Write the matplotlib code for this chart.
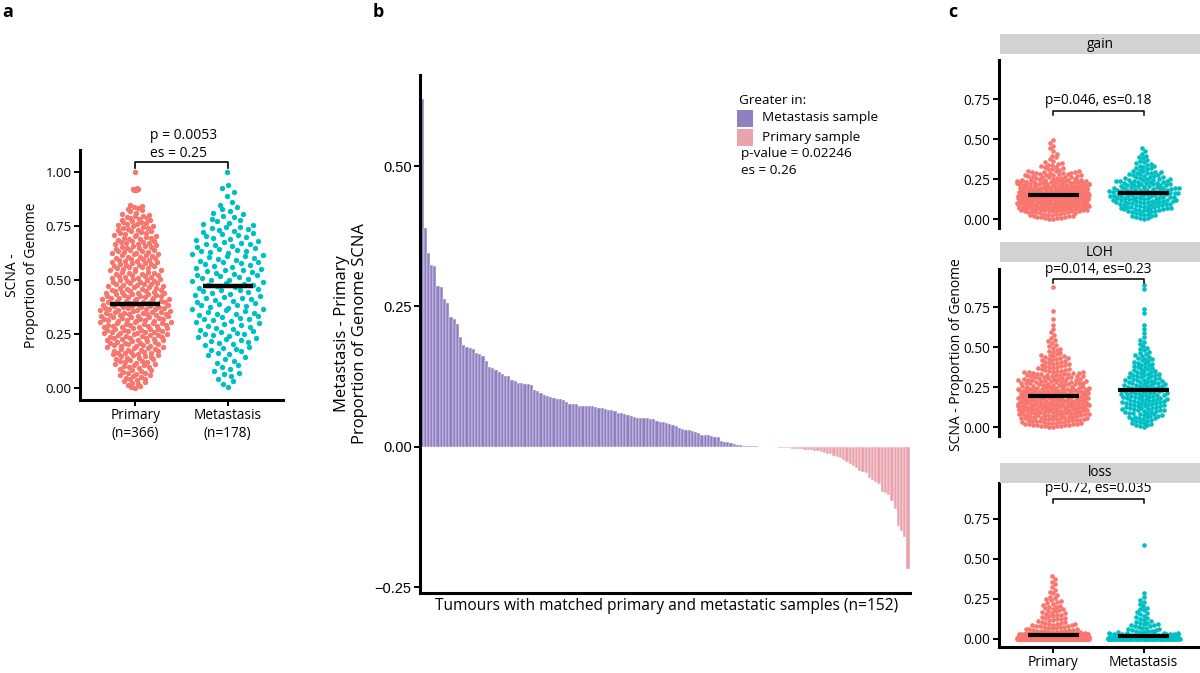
import numpy as np
import matplotlib
matplotlib.use('Agg')
import matplotlib.pyplot as plt
from matplotlib.patches import Rectangle

plt.rcParams['font.family'] = ['Open Sans', 'DejaVu Sans']

# ------------------------------------------------------------------ data
groups = ['Primary', 'Metastasis']
group_labels_a = ['Primary\n(n=366)', 'Metastasis\n(n=178)']

# panel a: binned read-off of the swarms (bin edges / counts) + single points
a_pri_edges = [0.00, 0.05, 0.10, 0.15, 0.20, 0.25, 0.30, 0.35, 0.40, 0.45,
               0.50, 0.55, 0.60, 0.65, 0.70, 0.75, 0.80, 0.85]
a_pri_counts = [12, 15, 18, 23, 26, 29, 31, 31, 28, 23, 21, 21, 20, 19, 17, 16, 10]
a_pri_single = [0.915, 0.918, 0.920, 0.922, 0.925, 1.00]
a_met_edges = [0.00, 0.05, 0.10, 0.15, 0.20, 0.25, 0.30, 0.35, 0.40, 0.45,
               0.50, 0.55, 0.60, 0.65, 0.70, 0.75, 0.80, 0.85, 0.90, 0.95]
a_met_counts = [4, 6, 5, 9, 11, 11, 13, 13, 12, 13, 13, 12, 13, 12, 11, 8, 6, 2, 3]
a_met_single = [1.00]
a_medians = [0.39, 0.47]

# panel b: sorted differences (metastasis - primary), n = 152
b_diff = [0.620, 0.390, 0.346, 0.324, 0.322, 0.287, 0.285, 0.263, 0.256, 0.231,
          0.227, 0.218, 0.196, 0.181, 0.178, 0.176, 0.174, 0.168, 0.165, 0.161,
          0.153, 0.143, 0.140, 0.137, 0.133, 0.130, 0.127, 0.126, 0.120, 0.117,
          0.114, 0.113, 0.112, 0.112, 0.111, 0.101, 0.099, 0.096, 0.093, 0.090,
          0.088, 0.087, 0.086, 0.085, 0.084, 0.080, 0.077, 0.076, 0.076, 0.073,
          0.072, 0.072, 0.072, 0.072, 0.071, 0.070, 0.069, 0.068, 0.066, 0.065,
          0.064, 0.061, 0.060, 0.058, 0.057, 0.055, 0.053, 0.052, 0.051, 0.051,
          0.051, 0.050, 0.049, 0.046, 0.045, 0.044, 0.042, 0.041, 0.039, 0.038,
          0.034, 0.032, 0.031, 0.030, 0.029, 0.027, 0.024, 0.022, 0.021, 0.021,
          0.020, 0.018, 0.017, 0.010, 0.009, 0.008, 0.007, 0.005, 0.004, 0.003,
          0.002, 0.002, 0.001, 0.001, 0.001, 0.0005, -0.0003, -0.0005, -0.0008, -0.001,
          -0.001, -0.0015, -0.002, -0.002, -0.0025, -0.003, -0.003, -0.004, -0.004, -0.005,
          -0.006, -0.006, -0.007, -0.008, -0.009, -0.010, -0.012, -0.013, -0.016, -0.018,
          -0.020, -0.023, -0.026, -0.030, -0.034, -0.037, -0.042, -0.045, -0.047, -0.055,
          -0.058, -0.062, -0.066, -0.081, -0.082, -0.085, -0.097, -0.111, -0.141, -0.150,
          -0.161, -0.218]

# panel c: facets, binned read-off
c_facets = ['gain', 'LOH', 'loss']
c_gain_edges = [0.00, 0.05, 0.10, 0.15, 0.20, 0.25, 0.30, 0.35, 0.40, 0.45, 0.50]
c_gain_pri = [25, 75, 85, 75, 55, 28, 12, 5, 3, 3]
c_gain_met = [14, 28, 34, 36, 28, 18, 11, 6, 3, 0]
c_loh_edges = [0.00, 0.05, 0.10, 0.15, 0.20, 0.25, 0.30, 0.35, 0.40, 0.45,
               0.50, 0.55, 0.60, 0.65, 0.70, 0.75, 0.80, 0.85, 0.90]
c_loh_pri = [32, 48, 60, 55, 55, 35, 30, 16, 14, 8, 5, 3, 2, 1, 1, 0, 0, 1]
c_loh_met = [12, 18, 22, 24, 24, 21, 17, 12, 10, 6, 4, 2, 2, 0, 2, 0, 0, 2]
c_loss_edges = [0.000, 0.005, 0.035, 0.05, 0.10, 0.15, 0.20, 0.25, 0.30, 0.35, 0.40]
c_loss_pri = [181, 100, 15, 24, 14, 12, 9, 5, 3, 3]
c_loss_met = [87, 45, 10, 15, 8, 6, 4, 2, 0, 0]
c_loss_met_single = [0.59]
c_medians = {'gain': [0.148, 0.164], 'LOH': [0.196, 0.233], 'loss': [0.027, 0.017]}
c_stats = {'gain': 'p=0.046, es=0.18', 'LOH': 'p=0.014, es=0.23', 'loss': 'p=0.72, es=0.035'}

# ------------------------------------------------------------------ helpers
W, H = 1200, 673
RED, TEAL = '#F8766D', '#00BFC4'
PURPLE, PINK = '#8F80C2', '#E9A3AD'


def expand(edges, counts, single=()):
    vals = []
    for lo, hi, k in zip(edges[:-1], edges[1:], counts):
        for j in range(k):
            vals.append(lo + (j + 0.5) / k * (hi - lo))
    vals.extend(single)
    return np.array(vals)


def vdc(n):
    out = np.zeros(n)
    for i in range(n):
        k, v, den = i + 1, 0.0, 1.0
        while k > 0:
            den *= 2
            k, r = divmod(k, 2)
            v += r / den
        out[i] = v
    return out


def quasirandom(y, width=0.4, adjust=0.5):
    y = np.asarray(y, float)
    n = len(y)
    sd = y.std(ddof=1)
    q75, q25 = np.percentile(y, [75, 25])
    bw = 0.9 * min(sd, (q75 - q25) / 1.34) * n ** -0.2 * adjust
    grid = np.linspace(y.min() - 3 * bw, y.max() + 3 * bw, 512)
    dens = lambda t: np.exp(-0.5 * ((t[:, None] - y[None, :]) / bw) ** 2).sum(1)
    d = dens(y) / dens(grid).max()
    ranks = np.argsort(np.argsort(y, kind='stable'), kind='stable')
    return (vdc(n)[ranks] - 0.5) * 2 * width * d


def beeswarm(y, ypx, xpx, d, width=0.4):
    y = np.asarray(y, float)
    yp = y * ypx
    order = np.argsort(yp, kind='stable')
    xs = np.zeros(len(y))
    PY = np.empty(0)
    PX = np.empty(0)
    for i in order:
        yi = yp[i]
        x = 0.0
        if len(PY):
            m = np.abs(PY - yi) < d
            if m.any():
                dx = np.sqrt(d * d - (PY[m] - yi) ** 2)
                lo = PX[m] - dx
                hi = PX[m] + dx
                cand = np.concatenate([[0.0], lo, hi])
                cand = cand[np.argsort(np.abs(cand), kind='stable')]
                bad = (cand[:, None] > lo[None, :] + 1e-6) & (cand[:, None] < hi[None, :] - 1e-6)
                x = cand[np.argmax(~bad.any(1))]
        xs[i] = x
        PY = np.append(PY, yi)
        PX = np.append(PX, x)
    maxw = width * xpx
    over = np.abs(xs) > maxw
    if over.any():
        # corral: spread overflowing points evenly across the allowed width
        xs[over] = (vdc(over.sum()) - 0.5) * 2 * maxw
    return xs / xpx


fig = plt.figure(figsize=(W / 100, H / 100), dpi=100)


def ax_px(l, t, r, b):
    return fig.add_axes([l / W, 1 - b / H, (r - l) / W, (b - t) / H])


def style(ax, lw=2.2, bottom=True):
    for s in ['top', 'right']:
        ax.spines[s].set_visible(False)
    ax.spines['left'].set_linewidth(lw)
    ax.spines['bottom'].set_linewidth(lw)
    if not bottom:
        ax.spines['bottom'].set_visible(False)
    ax.tick_params(length=4, width=1.4, color='black', pad=2)


# ------------------------------------------------------------------ panel a
axa = ax_px(80, 150, 283, 400)
style(axa)
a_vals = [expand(a_pri_edges, a_pri_counts, a_pri_single),
          expand(a_met_edges, a_met_counts, a_met_single)]
for k, (vals, col) in enumerate(zip(a_vals, [RED, TEAL])):
    off = quasirandom(vals)
    axa.scatter(k + 1 + off, vals, s=15, color=col, linewidths=0, zorder=2)
    axa.hlines(a_medians[k], k + 1 - 0.27, k + 1 + 0.27, color='black', lw=3.2, zorder=3)
axa.set_xlim(0.4, 2.6)
axa.set_ylim(-0.0556, 1.102)
axa.set_yticks([0, 0.25, 0.5, 0.75, 1.0])
axa.set_yticklabels(['0.00', '0.25', '0.50', '0.75', '1.00'], fontsize=9.5)
axa.set_xticks([1, 2])
axa.set_xticklabels(group_labels_a, fontsize=9.8, linespacing=1.25)
axa.plot([1, 1, 2, 2], [1.02, 1.046, 1.046, 1.02], color='black', lw=1.2, clip_on=False)
axa.text(1.161, 1.171, 'p = 0.0053', fontsize=10, ha='left', va='center')
axa.text(1.161, 1.088, 'es = 0.25', fontsize=10, ha='left', va='center')
fig.text(22 / W, 1 - 275 / H, 'SCNA -\nProportion of Genome', rotation=90, ha='center',
         va='center', fontsize=10, multialignment='center', linespacing=1.3)
fig.text(2 / W, 1 - 12 / H, 'a', fontsize=13, fontweight='bold', ha='left', va='center')

# ------------------------------------------------------------------ panel b
axb = ax_px(420, 75, 910, 593)
style(axb)
xb = np.arange(len(b_diff))
colb = [PURPLE if v >= 0 else PINK for v in b_diff]
axb.bar(xb, b_diff, width=1.0, color=colb, edgecolor='white', linewidth=0.3)
axb.set_xlim(-0.6, len(b_diff) - 0.4)
axb.set_ylim(-0.26, 0.662)
axb.set_xticks([])
axb.set_yticks([-0.25, 0, 0.25, 0.5])
axb.set_yticklabels(['\u22120.25', '0.00', '0.25', '0.50'], fontsize=10.5,
                    family=['Liberation Sans', 'DejaVu Sans'])
fig.text(667 / W, 1 - 606 / H, 'Tumours with matched primary and metastatic samples (n=152)',
         ha='center', va='center', fontsize=11.2)
fig.text(351 / W, 1 - 334 / H, 'Metastasis - Primary\nProportion of Genome SCNA', rotation=90,
         ha='center', va='center', fontsize=12, multialignment='center', linespacing=1.15)
fig.text(373 / W, 1 - 12 / H, 'b', fontsize=13, fontweight='bold', ha='left', va='center')
# legend
fig.text(739 / W, 1 - 101 / H, 'Greater in:', ha='left', va='center', fontsize=9.7)
for (yt, yb), col, lab, ty in [((110, 127), PURPLE, 'Metastasis sample', 118),
                               ((129, 146), PINK, 'Primary sample', 137)]:
    fig.patches.append(Rectangle((737 / W, 1 - yb / H), 16 / W, (yb - yt) / H,
                                 transform=fig.transFigure, color=col, lw=0))
    fig.text(762 / W, 1 - ty / H, lab, ha='left', va='center', fontsize=9.7)
fig.text(741 / W, 1 - 154 / H, 'p-value = 0.02246', ha='left', va='center', fontsize=9.7)
fig.text(741 / W, 1 - 171 / H, 'es = 0.26', ha='left', va='center', fontsize=9.7)

# ------------------------------------------------------------------ panel c
c_layout = {
    'gain': dict(box=(999, 60, 1198, 228), ylim=(-0.056, 0.994), strip=(34, 54),
                 br=0.675, txt=0.74),
    'LOH': dict(box=(999, 269, 1198, 436), ylim=(-0.056, 0.9875), strip=(242, 262),
                br=0.925, txt=0.987),
    'loss': dict(box=(999, 483, 1198, 647), ylim=(-0.05, 0.975), strip=(463, 483),
                 br=0.875, txt=0.94),
}
c_data = {
    'gain': [expand(c_gain_edges, c_gain_pri), expand(c_gain_edges, c_gain_met)],
    'LOH': [expand(c_loh_edges, c_loh_pri), expand(c_loh_edges, c_loh_met)],
    'loss': [expand(c_loss_edges, c_loss_pri), expand(c_loss_edges, c_loss_met, c_loss_met_single)],
}
for f in c_facets:
    L = c_layout[f]
    l, t, r, b = L['box']
    ax = ax_px(l, t, r, b)
    last = f == 'loss'
    style(ax, bottom=last)
    ypx = (b - t) / (L['ylim'][1] - L['ylim'][0])
    xpx = (r - l) / 2.2
    for k, (vals, col) in enumerate(zip(c_data[f], [RED, TEAL])):
        off = beeswarm(vals, ypx, xpx, 4.0)
        ax.scatter(k + 1 + off, vals, s=11, color=col, linewidths=0, zorder=2)
        ax.hlines(c_medians[f][k], k + 1 - 0.28, k + 1 + 0.28, color='black', lw=3.0, zorder=3)
    ax.set_xlim(0.4, 2.6)
    ax.set_ylim(*L['ylim'])
    ax.set_yticks([0, 0.25, 0.5, 0.75])
    ax.set_yticklabels(['0.00', '0.25', '0.50', '0.75'], fontsize=9.8)
    if last:
        ax.set_xticks([1, 2])
        ax.set_xticklabels(groups, fontsize=10)
    else:
        ax.set_xticks([])
    br = L['br']
    ax.plot([1, 1, 2, 2], [br - 0.025, br, br, br - 0.025], color='black', lw=1.1, clip_on=False)
    ax.text(1.5, L['txt'], c_stats[f], ha='center', va='center', fontsize=9.8, clip_on=False,
            zorder=5)
    st, sb = L['strip']
    fig.patches.append(Rectangle((1000 / W, 1 - sb / H), 200 / W, (sb - st) / H,
                                 transform=fig.transFigure, color='#D2D2D2', lw=0))
    fig.text(1100 / W, 1 - (st + sb) / 2 / H, f, ha='center', va='center', fontsize=9.8)

fig.text(957 / W, 1 - 355 / H, 'SCNA - Proportion of Genome', rotation=90, ha='center',
         va='center', fontsize=10)
fig.text(948 / W, 1 - 12 / H, 'c', fontsize=13, fontweight='bold', ha='left', va='center')

fig.savefig('out.png', dpi=100)
